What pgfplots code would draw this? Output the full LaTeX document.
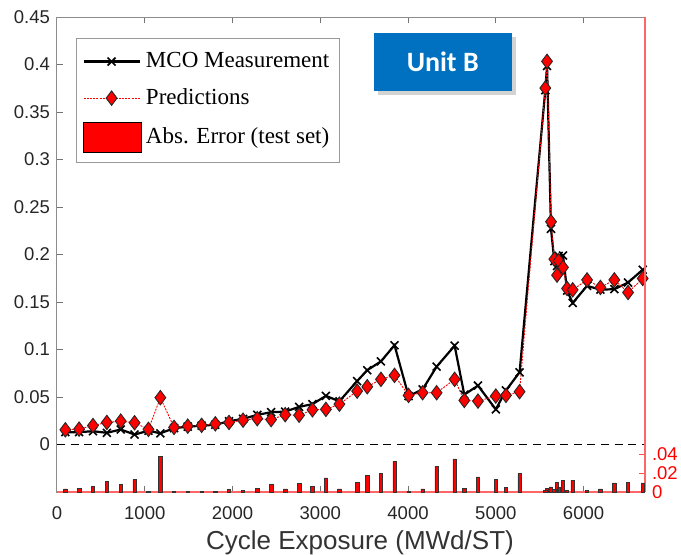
\documentclass[border=0pt]{standalone}
\usepackage{pgfplots}
\pgfplotsset{compat=1.18}
\usepackage{pgfplotstable}
\usepackage{fontspec}
\setmainfont{Liberation Sans}
\newfontfamily\seriffont{Liberation Serif}
\newfontfamily\calibrifont{Carlito}
\usetikzlibrary{shadows}
\definecolor{unitblue}{RGB}{0,112,192}

\pgfplotsset{
  longline legend/.style={legend image code/.code={\draw[mark repeat=2,mark phase=2,##1] plot coordinates {(0pt,0pt)(14pt,0pt)(28pt,0pt)};}},
  bigbox legend/.style={legend image code/.code={\draw[##1] (0pt,-7.5pt) rectangle (29pt,7.5pt);}},
}

\pgfplotstableread{
x     pred    meas    err
95    0.0155  0.0130  0.0032
252   0.0162  0.0130  0.0042
410   0.0200  0.0140  0.0060
568   0.0232  0.0123  0.0113
726   0.0246  0.0158  0.0084
884   0.0229  0.0105  0.0130
1042  0.0160  0.0145  0.0010
1178  0.0493  0.0118  0.0376
1334  0.0180  0.0172  0.0008
1490  0.0193  0.0188  0.0005
1648  0.0202  0.0198  0.0005
1804  0.0218  0.0208  0.0010
1960  0.0232  0.0245  0.0025
2120  0.0256  0.0270  0.0014
2282  0.0272  0.0312  0.0042
2440  0.0262  0.0340  0.0084
2600  0.0314  0.0346  0.0032
2759  0.0308  0.0396  0.0088
2911  0.0365  0.0425  0.0060
3064  0.0370  0.0512  0.0148
3218  0.0425  0.0455  0.0032
3420  0.0562  0.0668  0.0102
3535  0.0608  0.0782  0.0172
3691  0.0686  0.0875  0.0193
3846  0.0728  0.1045  0.0323
4006  0.0517  0.0510  0.0010
4166  0.0545  0.0580  0.0032
4326  0.0545  0.0820  0.0270
4531  0.0686  0.1040  0.0348
4641  0.0464  0.0525  0.0042
4797  0.0457  0.0620  0.0158
5000  0.0510  0.0370  0.0130
5116  0.0517  0.0570  0.0049
5271  0.0556  0.0760  0.0193
5564  0.3752  0.3730  0.0020
5584  0.4033  0.3985  0.0040
5629  0.2345  0.2270  0.0053
5667  0.1951  0.1930  0.0030
5698  0.1783  0.1880  0.0102
5716  0.1934  0.1985  0.0050
5766  0.1864  0.1990  0.0123
5812  0.1642  0.1620  0.0020
5876  0.1628  0.1490  0.0123
6040  0.1733  0.1670  0.0015
6192  0.1653  0.1630  0.0032
6351  0.1733  0.1635  0.0095
6507  0.1600  0.1705  0.0105
6674  0.1748  0.1840  0.0095
}\datatable

\begin{document}
\begin{tikzpicture}
\begin{axis}[
  at={(0,0)}, anchor=south west,
  scale only axis, width=294pt, height=237.5pt,
  xmin=0, xmax=6700, ymin=-0.05, ymax=0.45,
  xtick={0,1000,2000,3000,4000,5000,6000},
  ytick={0,0.05,0.1,0.15,0.2,0.25,0.3,0.35,0.4,0.45},
  scaled x ticks=false, scaled y ticks=false,
  /pgf/number format/assume math mode=true,
  xticklabel style={/pgf/number format/1000 sep={}, yshift=-4pt},
  yticklabel style={/pgf/number format/.cd, fixed, precision=2},
  tick label style={font=\fontsize{9.25}{10}\selectfont, text=black!85},
  ytick pos=left, tick align=inside, major tick length=3pt,
  axis line style={gray!90, line width=0.5pt},
  tick style={gray!90!black, line width=0.5pt},
  xlabel={Cycle Exposure (MWd/ST)},
  xlabel style={font=\fontsize{13}{15}\selectfont, text=black!80, yshift=1.5pt, xshift=4.5pt},
  legend cell align=left,
  legend style={at={(0.0323,0.956)}, anchor=north west, draw=gray!80, line width=0.5pt,
    font=\seriffont\fontsize{11.5}{13}\selectfont, row sep=5pt,
    inner xsep=3pt, inner ysep=5pt},
]
\addplot[black, dash pattern=on 4pt off 2.8pt, line width=0.9pt, forget plot] coordinates {(0,0) (6700,0)};

\addplot[black, line width=1.1pt, mark=x, mark size=2.8pt, mark options={line width=0.8pt},
  longline legend]
  table[x=x, y=meas]{\datatable};
\addlegendentry{MCO Measurement}

\addplot[red, dash pattern=on 1pt off 0.6pt, line width=0.45pt, mark=diamond*, mark size=3.6pt,
  mark options={solid, fill=red, draw=black!85, line width=0.45pt},
  longline legend]
  table[x=x, y=pred]{\datatable};
\addlegendentry{Predictions}

\addlegendimage{fill=red, draw=black, line width=0.4pt, bigbox legend}
\addlegendentry{Abs. Error (test set)}

\node[fill=unitblue, text=white, font=\calibrifont\bfseries\fontsize{14}{16}\selectfont,
  minimum width=68.9pt, minimum height=28.7pt, inner sep=0pt,
  drop shadow={opacity=0.35, shadow xshift=2pt, shadow yshift=-2pt}]
  at (rel axis cs:0.656,0.905) {Unit B};
\end{axis}

\begin{axis}[
  at={(0,0)}, anchor=south west,
  scale only axis, width=294pt, height=237.5pt,
  xmin=0, xmax=6700, ymin=0, ymax=0.5,
  axis x line*=bottom, axis y line*=right,
  xtick=\empty,
  ytick={0,0.02,0.04}, yticklabels={0,.02,.04},
  axis line style={red!60, line width=0.6pt, -},
  ytick style={red!70, line width=0.5pt},
  tick align=inside, major tick length=3pt,
  yticklabel style={text=red, font=\fontsize{9.25}{10}\selectfont},
  ybar, bar width=1.7pt,
]
\addplot[fill=red, draw=black!80, line width=0.3pt] table[x=x, y=err]{\datatable};
\end{axis}
\pgfresetboundingbox
\useasboundingbox (-28.5pt,-31pt) rectangle (312pt,246pt);
\end{tikzpicture}
\end{document}
